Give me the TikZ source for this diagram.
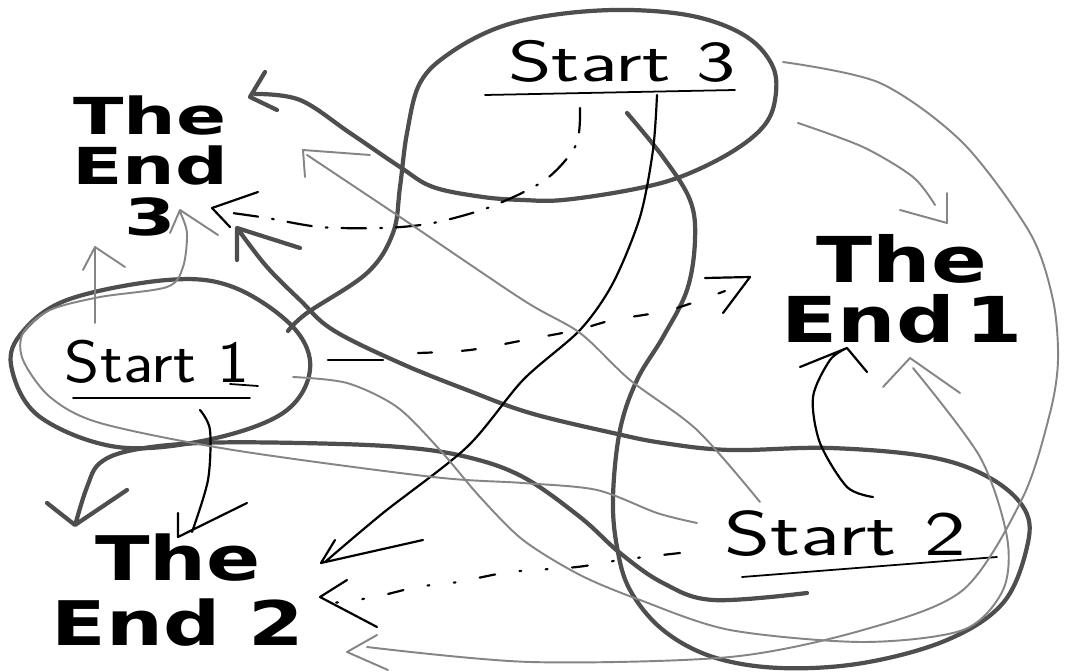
\documentclass[tikz,border=0pt]{standalone}
\usepackage{fontspec}
\newfontfamily\endfont[FakeStretch=1.3]{DejaVu Sans}
\newfontfamily\endfontw[FakeStretch=1.45]{DejaVu Sans}
\newfontfamily\startfont{Latin Modern Sans}
\definecolor{heavyc}{HTML}{4E4E4E}
\definecolor{pencilc}{HTML}{858585}
\begin{document}
\begin{tikzpicture}[x=0.02cm,y=-0.02cm,
  heavy/.style={draw=heavyc,line width=2.4pt,line cap=round,line join=round},
  ink/.style={draw=black,line width=1.25pt,line cap=round,line join=round},
  pencil/.style={draw=pencilc,line width=1.1pt,line cap=round,line join=round},
  endlbl/.style={inner sep=0pt,align=center,text=black},
  startlbl/.style={inner sep=0pt,anchor=base,text=black}]
\fill[white] (0,0) rectangle (1066,672);
\useasboundingbox (0,0) rectangle (1066,672);

% labels
\node[endlbl,font=\endfontw\bfseries\fontsize{29}{28.5}\selectfont] (e3) at (150,166) {The\\End\\3};
\node[endlbl,font=\endfont\bfseries\fontsize{36}{34}\selectfont] (e1) at (902,289) {The\\End\,1};
\node[endlbl,font=\endfont\bfseries\fontsize{35}{37}\selectfont] (e2) at (178,590) {The\\End 2};
\node[startlbl,font=\startfont\fontsize{33}{33}\selectfont] (s3) at (622,82) {\scalebox{1.44}[1]{Start 3}};
\node[startlbl,font=\startfont\fontsize{34}{34}\selectfont] (s1) at (157,383) {\scalebox{1.13}[1]{Start 1}};
\node[startlbl,font=\startfont\fontsize{36}{36}\selectfont] (s2) at (845,556) {\scalebox{1.4}[1]{Start 2}};

% underlines
\draw[ink,line width=1pt] (485,95) -- (735,90);
\draw[ink,line width=1pt] (73,398) -- (250,398) (230,384) -- (258,386);
\draw[ink,line width=1pt] (742,577) -- (997,557);

% heavy strokes
\draw[heavy] plot[smooth,tension=0.6] coordinates {(288,331)(307,313)(367,273)(393,233)(400,187)(407,133)(420,83)(450,53)(500,27)(560,14)(630,10)(697,17)(747,37)(773,67)(775,100)(763,127)(730,153)(680,177)(630,190)(563,200)(523,200)(483,197)(433,187)(400,167)(350,133)(300,100)(255,94)}
  (265,72) -- (250,97) -- (277,110);
\draw[heavy] plot[smooth,tension=0.6] coordinates {(627,113)(663,157)(690,200)(695,240)(687,290)(663,337)(637,380)(620,430)(613,497)(617,547)(630,590)(663,630)(713,657)(780,668)(863,663)(947,640)(1003,603)(1027,547)(1025,510)(990,478)(930,457)(830,448)(730,450)(663,443)(613,433)(530,413)(467,390)(400,363)(333,330)(300,300)(267,267)(240,232)}
  (237,260) -- (237,228) -- (300,248);
\draw[heavy] plot[smooth,tension=0.6] coordinates {(807,593)(713,600)(663,583)(620,553)(580,517)(523,477)(467,457)(400,447)(300,443)(200,443)(133,450)(100,463)(87,487)(76,522)}
  (47,503) -- (75,525) -- (127,490);
\draw[heavy] plot[smooth cycle,tension=0.6] coordinates {(20,335)(67,300)(167,280)(233,287)(293,327)(310,370)(283,413)(207,440)(117,447)(40,417)(12,370)};

% thin black strokes
\draw[ink] plot[smooth] coordinates {(657,95)(653,150)(640,217)(613,283)(580,330)(523,380)(467,447)(383,513)(325,562)}
  (335,540) -- (321,563) -- (423,540);
\draw[ink] plot[smooth] coordinates {(873,497)(847,487)(820,443)(813,397)(830,360)(847,348)}
  (800,367) -- (847,348) -- (867,372);
\draw[ink] plot[smooth] coordinates {(200,410)(210,430)(208,480)(192,532)}
  (178,513) -- (178,537) -- (247,503);
% dashed start1 -> end1
\draw[ink] (328,360) -- (383,360);
\draw[ink,dash pattern=on 8pt off 17pt] plot[smooth] coordinates {(418,353)(470,350)(530,339)(577,330)(613,320)(670,310)(725,291)};
\draw[ink] (705,278) -- (750,277) -- (723,313);
% dash-dot start3 -> end3
\draw[ink,dash pattern=on 14pt off 8pt on 1pt off 8pt] plot[smooth] coordinates {(580,108)(576,145)(545,180)(490,207)(433,223)(383,228)(320,227)(267,218)(225,212)};
\draw[ink] (258,192) -- (212,208) -- (230,227);
% dotted start2 -> end2
\draw[ink,dash pattern=on 9pt off 14pt on 1pt off 14pt on 1pt off 14pt] plot[smooth] coordinates {(680,553)(620,560)(577,567)(510,572)(458,582)(417,587)(375,597)(333,603)};
\draw[ink] (347,580) -- (320,597) -- (377,627);

% gray strokes
\draw[pencil] plot[smooth] coordinates {(798,123)(863,147)(913,177)(935,205)}
  (900,210) -- (947,223) -- (947,193);
\draw[pencil] plot[smooth] coordinates {(783,62)(880,83)(963,143)(1030,233)(1053,300)(1058,360)(1050,413)(1023,497)(963,590)(863,630)(730,657)(530,662)(367,647)}
  (377,635) -- (347,652) -- (388,670);
\draw[pencil] plot[smooth] coordinates {(293,377)(347,383)(397,407)(440,450)(480,497)(523,540)(580,575)(640,600)(730,630)(863,642)(963,630)(1003,590)(1007,537)(980,457)(913,368)}
  (883,387) -- (910,358) -- (960,393);
\draw[pencil] plot[smooth] coordinates {(697,523)(657,513)(597,490)(523,483)(433,477)(233,450)(100,423)(50,397)(23,360)(23,333)(50,310)(100,297)(167,287)(183,267)(187,233)(180,212)}
  (170,233) -- (180,210) -- (218,235);
\draw[pencil] (95,323) -- (95,247) (83,270) -- (95,247) -- (125,267);
\draw[pencil] plot[smooth] coordinates {(760,502)(697,430)(630,380)(580,333)(523,300)(400,217)(307,155)}
  (370,155) -- (303,150) -- (305,177);
\end{tikzpicture}
\end{document}
